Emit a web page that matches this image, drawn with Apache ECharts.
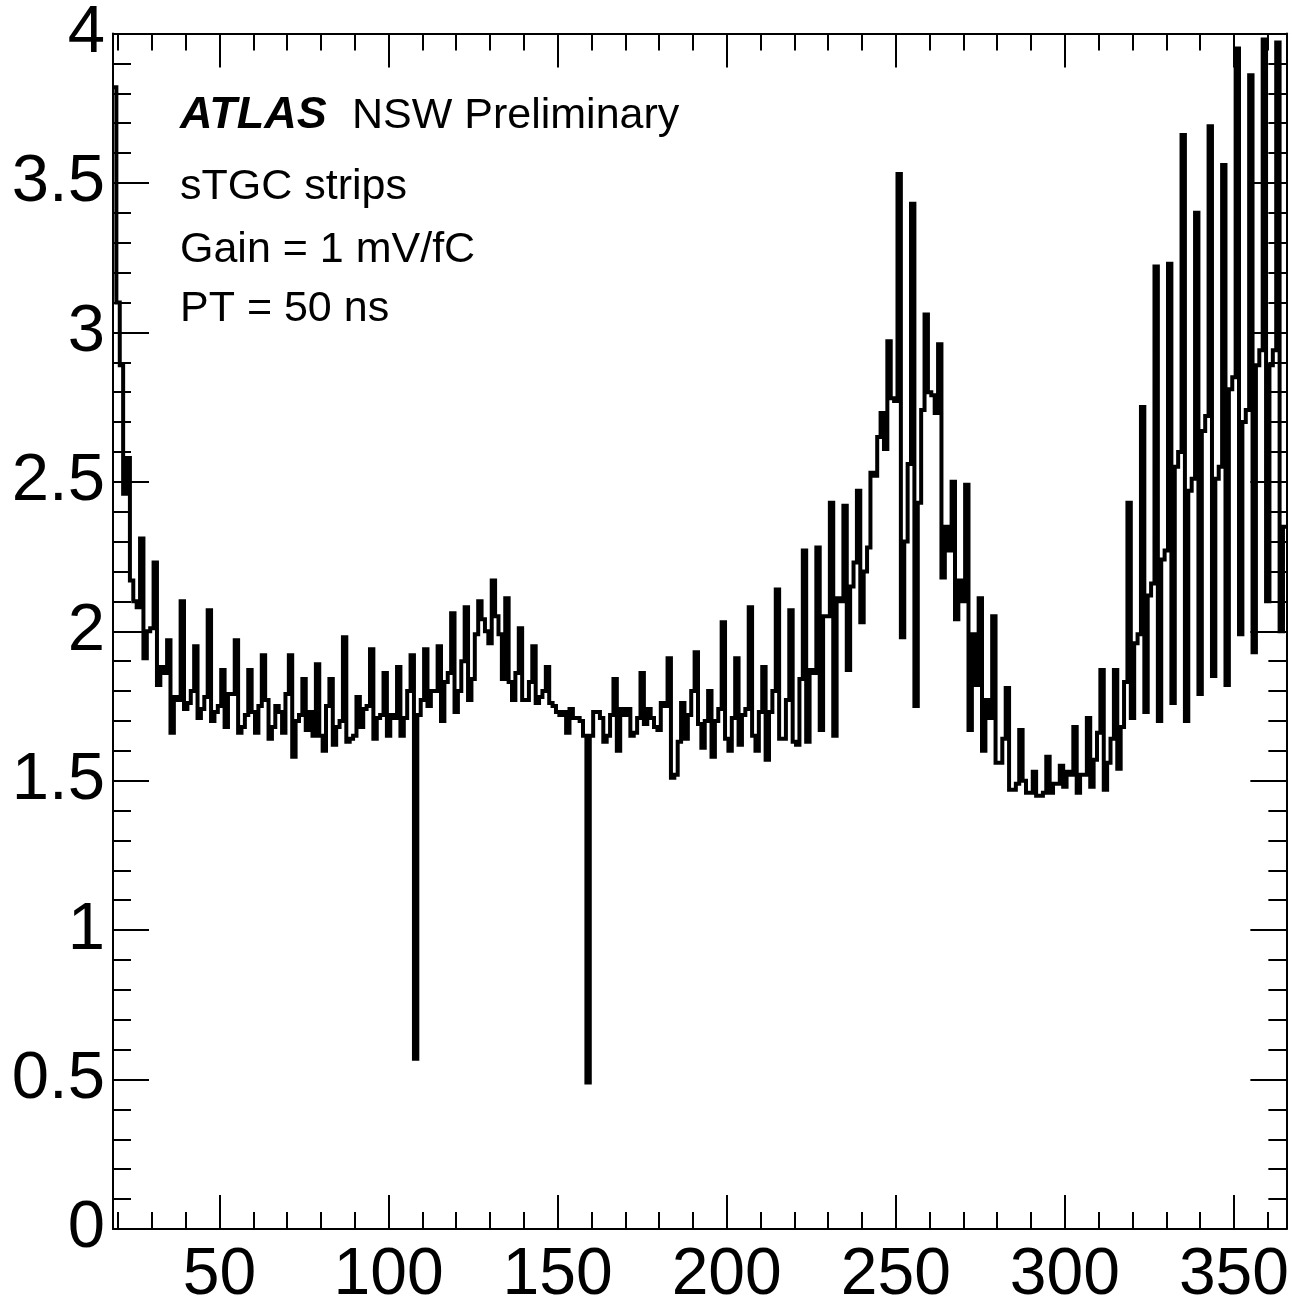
<!DOCTYPE html>
<html><head><meta charset="utf-8">
<script src="https://cdn.jsdelivr.net/npm/echarts@6/dist/echarts.min.js"></script>
<style>html,body{margin:0;padding:0;background:#fff;}#chart{width:1292px;height:1309px;}</style>
</head><body><div id="chart"></div>
<script>
// histogram: one value per strip channel, first channel = 19
const FIRST_CHANNEL = 19;
const values19to59 = [3.82,
  3.10,2.89,2.46,2.58, 2.17,2.10,2.08,2.31, 1.91,2.00,2.01,2.23, 1.82,1.88,1.86,1.97,
  1.66,1.78,1.77,2.10, 1.74,1.76,1.80,1.95, 1.71,1.74,1.78,2.07, 1.70,1.73,1.75,1.87,
  1.68,1.79,1.79,1.97, 1.66,1.68,1.72,1.87];
const values60to99 = [
  1.73,1.66,1.75,1.92, 1.77,1.64,1.68,1.75, 1.73,1.66,1.79,1.92, 1.58,1.70,1.72,1.84,
  1.67,1.73,1.65,1.89, 1.65,1.60,1.75,1.84, 1.62,1.68,1.70,1.98, 1.63,1.64,1.65,1.78,
  1.68,1.74,1.75,1.94, 1.64,1.71,1.72,1.86];
const values100to149 = [
  1.65,1.72,1.71,1.88, 1.65,1.71,1.80,1.92, 0.57,1.72,1.77,1.94, 1.75,1.80,1.80,1.95,
  1.70,1.83,1.86,2.06, 1.73,1.80,1.90,2.08, 1.77,1.84,1.99,2.10, 2.04,2.00,1.96,2.17,
  2.05,1.99,1.84,2.11, 1.83,1.77,1.86,2.01, 1.77,1.77,1.83,1.95, 1.76,1.78,1.80,1.88,
  1.76,1.75];
const values150to199 = [
  1.73,1.72,1.73,1.66,1.74,1.71,1.71,1.70,1.65,0.49,
  1.65,1.73,1.73,1.71,1.63,1.65,1.72,1.84,1.60,1.74,
  1.72,1.74,1.65,1.66,1.71,1.86,1.69,1.74,1.71,1.68,
  1.67,1.76,1.75,1.91,1.51,1.52,1.63,1.76,1.64,1.72,
  1.80,1.93,1.69,1.61,1.70,1.80,1.58,1.70,1.74,2.03];
const values200to249 = [
  1.64,1.60,1.71,1.91,1.62,1.72,1.74,2.08,1.65,1.60,
  1.73,1.88,1.57,1.73,1.80,2.14,1.64,1.64,1.77,2.07,
  1.63,1.62,1.84,2.27,1.63,1.87,1.86,2.28,1.67,2.05,
  2.05,2.43,1.65,2.11,2.10,2.42,1.87,2.15,2.23,2.47,
  2.03,2.20,2.28,2.53,2.52,2.65,2.73,2.61,2.97,2.78];
const values250to299 = [
  2.77,3.53,1.98,2.30,2.56,3.43,1.75,2.43,2.74,3.06,
  2.80,2.79,2.73,2.96,2.18,2.35,2.27,2.50,2.04,2.17,
  2.10,2.49,1.67,1.99,1.82,2.11,1.60,1.77,1.71,2.05,
  1.56,1.56,1.64,1.81,1.47,1.47,1.49,1.67,1.50,1.46,
  1.46,1.53,1.45,1.45,1.46,1.58,1.46,1.49,1.49,1.55];
const values300to365 = [
  1.48,1.53,1.52,1.68,1.46,1.52,1.52,1.71,1.48,1.57,
  1.66,1.87,1.47,1.56,1.64,1.87,1.54,1.68,1.83,2.43,
  1.71,1.96,1.99,2.75,1.73,2.12,2.16,3.22,1.70,2.24,
  2.27,3.23,1.76,2.55,2.60,3.66,1.70,2.47,2.51,3.40,
  1.79,2.67,2.72,3.69,1.85,2.51,2.55,3.56,1.82,2.81,
  2.85,3.95,1.99,2.70,2.74,3.86,1.93,2.89,2.94,3.98,
  2.10,2.89,2.94,3.97,2.00,2.35];

const xMajorTicks = [50,100,150,200,250,300,350];
const xMinorTicks = [20,30,40,60,70,80,90,110,120,130,140,160,170,180,190,210,220,230,240,260,270,280,290,310,320,330,340,360];
const yTickStep = 0.5;
const labelLines = ['sTGC strips','Gain = 1 mV/fC','PT = 50 ns'];

const values = values19to59.concat(values60to99, values100to149, values150to199,
  values200to249, values250to299, values300to365);
// points at left bin edges, step 'end' draws each bin flat across its width
const stepData = values.map((v, i) => [FIRST_CHANNEL + i - 0.5, v]);
stepData.push([FIRST_CHANNEL + values.length - 0.5, values[values.length - 1]]);
const X_MIN = FIRST_CHANNEL - 0.5, X_MAX = FIRST_CHANNEL + values.length - 0.5;

const FONT = '"Liberation Sans", Arial, Helvetica, sans-serif';
const lineStyle = {color:'#000', width:2};

function xAx(pos, ticks, len, withLabels, withLine){
  return {type:'value', min:X_MIN, max:X_MAX, position:pos,
    axisLine:{show:withLine, onZero:false, lineStyle},
    splitLine:{show:false},
    axisTick:{show:true, inside:true, length:len, customValues:ticks, lineStyle},
    axisLabel:withLabels ? {show:true, customValues:ticks, fontSize:66, color:'#000', fontFamily:FONT, margin:14}
                         : {show:false}};
}
function yAx(pos, withLabels){
  return {type:'value', min:0, max:4, interval:yTickStep, position:pos,
    axisLine:{show:true, onZero:false, lineStyle},
    splitLine:{show:false},
    axisTick:{show:true, inside:true, length:36, lineStyle},
    minorTick:{show:true, splitNumber:5, length:18, lineStyle},
    axisLabel:withLabels ? {show:true, fontSize:67, color:'#000', fontFamily:FONT, margin:8,
       showMinLabel:true, showMaxLabel:true}
                         : {show:false}};
}

const chart = echarts.init(document.getElementById('chart'), null, {renderer:'canvas'});
const textStyle = (txt, x, y, extra) => ({type:'text', x, y,
  style:Object.assign({text:txt, fill:'#000', fontSize:43, fontFamily:FONT, verticalAlign:'middle', align:'left'}, extra||{})});
chart.setOption({
  animation:false,
  backgroundColor:'#fff',
  grid:{left:113, right:2, top:33, bottom:71, containLabel:false},
  xAxis:[xAx('bottom', xMajorTicks, 34, true, true), xAx('bottom', xMinorTicks, 17, false, false),
         xAx('top', xMajorTicks, 34, false, true), xAx('top', xMinorTicks, 17, false, false)],
  yAxis:[yAx('left', true), yAx('right', false)],
  series:[{type:'line', step:'end', data:stepData, xAxisIndex:0, yAxisIndex:0,
    symbol:'none', lineStyle:{color:'#000', width:4, join:'miter'}, clip:true}],
  graphic:[
    textStyle('ATLAS', 180, 116, {fontWeight:'bold', fontStyle:'italic', fontSize:45}),
    textStyle('NSW Preliminary', 352, 116),
    textStyle(labelLines[0], 180, 187),
    textStyle(labelLines[1], 180, 250),
    textStyle(labelLines[2], 180, 309)
  ]
});
</script></body></html>
